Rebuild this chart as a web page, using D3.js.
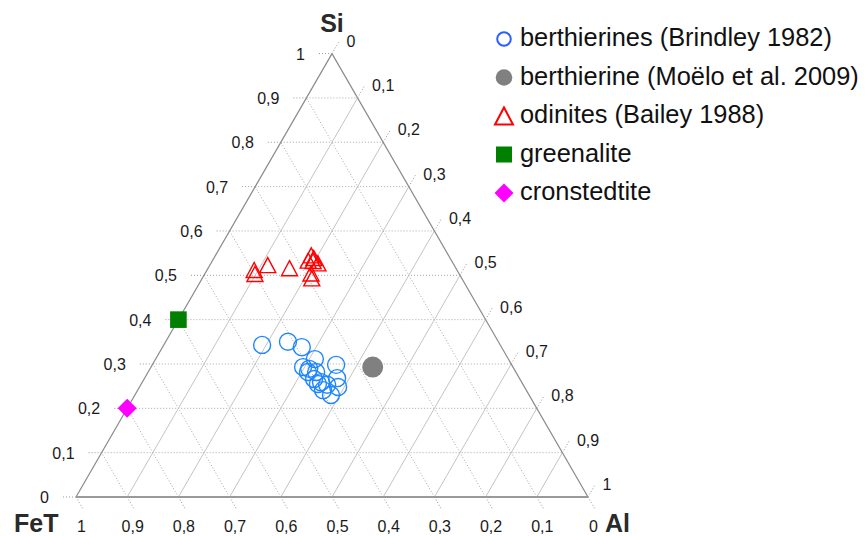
<!DOCTYPE html>
<html>
<head>
<meta charset="utf-8">
<script src="https://cdn.jsdelivr.net/npm/d3@7"></script>
<style>
  html, body { margin: 0; padding: 0; background: #fff; }
  svg { display: block; font-family: "Liberation Sans", Arial, sans-serif; }
</style>
</head>
<body>
<svg id="chart" width="865" height="536"></svg>
<script>
// Ternary compositions: Si, Al (FeT = 1 - Si - Al)
const berthierinesSi = [0.343, 0.350, 0.338, 0.311, 0.298, 0.293, 0.289, 0.282, 0.266, 0.259, 0.253, 0.268, 0.248, 0.230, 0.241, 0.255, 0.282];
const berthierinesAl = [0.192, 0.239, 0.272, 0.311, 0.359, 0.297, 0.311, 0.328, 0.332, 0.349, 0.364, 0.376, 0.388, 0.383, 0.362, 0.345, 0.312];

const moeloSi = [0.293];
const moeloAl = [0.433];

const odinitesSi = [0.512, 0.503, 0.523, 0.516, 0.545, 0.539, 0.533, 0.527, 0.532, 0.504, 0.493];
const odinitesAl = [0.092, 0.098, 0.113, 0.159, 0.187, 0.195, 0.187, 0.209, 0.197, 0.207, 0.214];

const greenaliteSi = [0.40];
const greenaliteAl = [0.0];

const cronstedtiteSi = [0.20];
const cronstedtiteAl = [0.0];

const tickValues = [0, 0.1, 0.2, 0.3, 0.4, 0.5, 0.6, 0.7, 0.8, 0.9, 1];
const legendLabels = [
  "berthierines (Brindley 1982)",
  "berthierine (Moëlo et al. 2009)",
  "odinites (Bailey 1988)",
  "greenalite",
  "cronstedtite"
];

const svg = d3.select("#chart");

// Triangle geometry
const side = 512;
const height = side * Math.sqrt(3) / 2;
const x0 = 76, yBase = 497;
const xScale = d3.scaleLinear().domain([0, 1]).range([x0, x0 + side]);
const yScale = d3.scaleLinear().domain([0, 1]).range([yBase, yBase - height]);
const proj = (si, al) => [xScale(al + si / 2), yScale(si)];

const fmt = v => (v === 0 || v === 1) ? String(v) : v.toFixed(1).replace(".", ",");

const grid = svg.append("g");
const inner = tickValues.filter(v => v > 0 && v < 1);

// constant Si (horizontal, dotted)
grid.selectAll("line.si").data(inner).join("line")
  .attr("x1", v => proj(v, 0)[0]).attr("y1", v => proj(v, 0)[1])
  .attr("x2", v => proj(v, 1 - v)[0]).attr("y2", v => proj(v, 1 - v)[1])
  .attr("stroke", "#a8a8a8").attr("stroke-width", 1).attr("stroke-dasharray", "1,2");

// constant FeT (parallel to Si-Al edge, dotted)
grid.selectAll("line.fe").data(inner).join("line")
  .attr("x1", v => proj(0, 1 - v)[0]).attr("y1", v => proj(0, 1 - v)[1])
  .attr("x2", v => proj(1 - v, 0)[0]).attr("y2", v => proj(1 - v, 0)[1])
  .attr("stroke", "#a8a8a8").attr("stroke-width", 1).attr("stroke-dasharray", "1,2");

// constant Al (parallel to FeT-Si edge, solid)
grid.selectAll("line.al").data(inner).join("line")
  .attr("x1", v => proj(0, v)[0]).attr("y1", v => proj(0, v)[1])
  .attr("x2", v => proj(1 - v, v)[0]).attr("y2", v => proj(1 - v, v)[1])
  .attr("stroke", "#c4c4c4").attr("stroke-width", 1);

// Outer edges
const A = proj(1, 0), B = proj(0, 0), C = proj(0, 1);
grid.append("line").attr("x1", B[0]).attr("y1", B[1]).attr("x2", A[0]).attr("y2", A[1])
  .attr("stroke", "#8a8a8a").attr("stroke-width", 1.2);
grid.append("line").attr("x1", A[0]).attr("y1", A[1]).attr("x2", C[0]).attr("y2", C[1])
  .attr("stroke", "#8a8a8a").attr("stroke-width", 1.2);
grid.append("line").attr("x1", B[0]).attr("y1", B[1]).attr("x2", C[0]).attr("y2", C[1])
  .attr("stroke", "#9a9a9a").attr("stroke-width", 1.8);

// Ticks and tick labels
const tl = 15;
const ticks = svg.append("g");
const tickStyle = sel => sel.attr("stroke", "#999").attr("stroke-width", 1).attr("stroke-dasharray", "1,2");
const labelStyle = sel => sel.attr("font-size", 16).attr("fill", "#1a1a1a");

// Si (left edge)
ticks.selectAll("line.tsi").data(tickValues).join("line")
  .attr("x1", v => proj(v, 0)[0]).attr("y1", v => proj(v, 0)[1])
  .attr("x2", v => proj(v, 0)[0] - tl).attr("y2", v => proj(v, 0)[1])
  .call(tickStyle);
ticks.selectAll("text.tsi").data(tickValues).join("text")
  .attr("x", v => proj(v, 0)[0] - 27).attr("y", v => proj(v, 0)[1] + 6)
  .attr("text-anchor", "end").text(fmt).call(labelStyle);

// Al (right edge)
const rdx = 0.5 * tl, rdy = -Math.sqrt(3) / 2 * tl;
ticks.selectAll("line.tal").data(tickValues).join("line")
  .attr("x1", v => proj(1 - v, v)[0]).attr("y1", v => proj(1 - v, v)[1])
  .attr("x2", v => proj(1 - v, v)[0] + rdx).attr("y2", v => proj(1 - v, v)[1] + rdy)
  .call(tickStyle);
ticks.selectAll("text.tal").data(tickValues).join("text")
  .attr("x", v => proj(1 - v, v)[0] + rdx + 7).attr("y", v => proj(1 - v, v)[1] + rdy + 6)
  .attr("text-anchor", "start").text(fmt).call(labelStyle);

// FeT (bottom edge)
const bdx = 0.5 * tl, bdy = Math.sqrt(3) / 2 * tl;
ticks.selectAll("line.tfe").data(tickValues).join("line")
  .attr("x1", v => proj(0, 1 - v)[0]).attr("y1", v => proj(0, 1 - v)[1])
  .attr("x2", v => proj(0, 1 - v)[0] + bdx).attr("y2", v => proj(0, 1 - v)[1] + bdy)
  .call(tickStyle);
ticks.selectAll("text.tfe").data(tickValues).join("text")
  .attr("x", v => proj(0, 1 - v)[0] + bdx - 2).attr("y", 532)
  .attr("text-anchor", "middle").text(fmt).call(labelStyle);

// Axis titles
const titleStyle = sel => sel.attr("font-size", 25).attr("font-weight", "bold").attr("fill", "#2a2a2a");
svg.append("text").attr("x", A[0]).attr("y", 32).attr("text-anchor", "middle").text("Si").call(titleStyle);
svg.append("text").attr("x", 58.5).attr("y", 532).attr("text-anchor", "end").text("FeT").call(titleStyle);
svg.append("text").attr("x", 605).attr("y", 532).attr("text-anchor", "start").text("Al").call(titleStyle);

// Marker shapes (centered on 0,0)
const triPath = (w, h) => `M0,${-h / 2}L${w / 2},${h / 2}L${-w / 2},${h / 2}Z`;
const diamondPath = (w, h) => `M0,${-h / 2}L${w / 2},0L0,${h / 2}L${-w / 2},0Z`;
const zip = (si, al) => si.map((s, i) => ({ si: s, al: al[i] }));
const pos = d => `translate(${proj(d.si, d.al)[0]},${proj(d.si, d.al)[1]})`;

const marks = svg.append("g");

marks.selectAll("path.odi").data(zip(odinitesSi, odinitesAl)).join("path")
  .attr("transform", pos).attr("d", triPath(16, 15))
  .attr("fill", "none").attr("stroke", "#ff0000").attr("stroke-width", 1.4);

marks.selectAll("circle.ber").data(zip(berthierinesSi, berthierinesAl)).join("circle")
  .attr("transform", pos).attr("r", 8.5)
  .attr("fill", "none").attr("stroke", "#1e86ff").attr("stroke-width", 1.4);

marks.selectAll("circle.moe").data(zip(moeloSi, moeloAl)).join("circle")
  .attr("transform", pos).attr("r", 10.5).attr("fill", "#808080");

marks.selectAll("rect.gre").data(zip(greenaliteSi, greenaliteAl)).join("rect")
  .attr("transform", pos).attr("x", -8.3).attr("y", -8.3).attr("width", 16.6).attr("height", 16.6)
  .attr("fill", "#007f00");

marks.selectAll("path.cro").data(zip(cronstedtiteSi, cronstedtiteAl)).join("path")
  .attr("transform", pos).attr("d", diamondPath(19, 19)).attr("fill", "#ff00ff");

// Legend
const legend = svg.append("g").attr("transform", "translate(504,0)");
const rowY = i => 46 + i * 38.5;
const rows = legend.selectAll("g.row").data(legendLabels).join("g")
  .attr("transform", (d, i) => `translate(0,${rowY(i) - 7})`);
rows.append("text").attr("x", 16).attr("y", 7).attr("font-size", 25.4).attr("fill", "#111").text(d => d);

const sym = legend.selectAll("g.row");
d3.select(rows.nodes()[0]).append("circle").attr("r", 6.8).attr("fill", "none")
  .attr("stroke", "#2a60ff").attr("stroke-width", 2);
d3.select(rows.nodes()[1]).append("circle").attr("r", 8.3).attr("fill", "#808080");
d3.select(rows.nodes()[2]).append("path").attr("d", triPath(18, 17)).attr("fill", "none")
  .attr("stroke", "#ff0000").attr("stroke-width", 2);
d3.select(rows.nodes()[3]).append("rect").attr("x", -8).attr("y", -8).attr("width", 16).attr("height", 16)
  .attr("fill", "#007f00");
d3.select(rows.nodes()[4]).append("path").attr("d", diamondPath(19, 19)).attr("fill", "#ff00ff");
</script>
</body>
</html>
